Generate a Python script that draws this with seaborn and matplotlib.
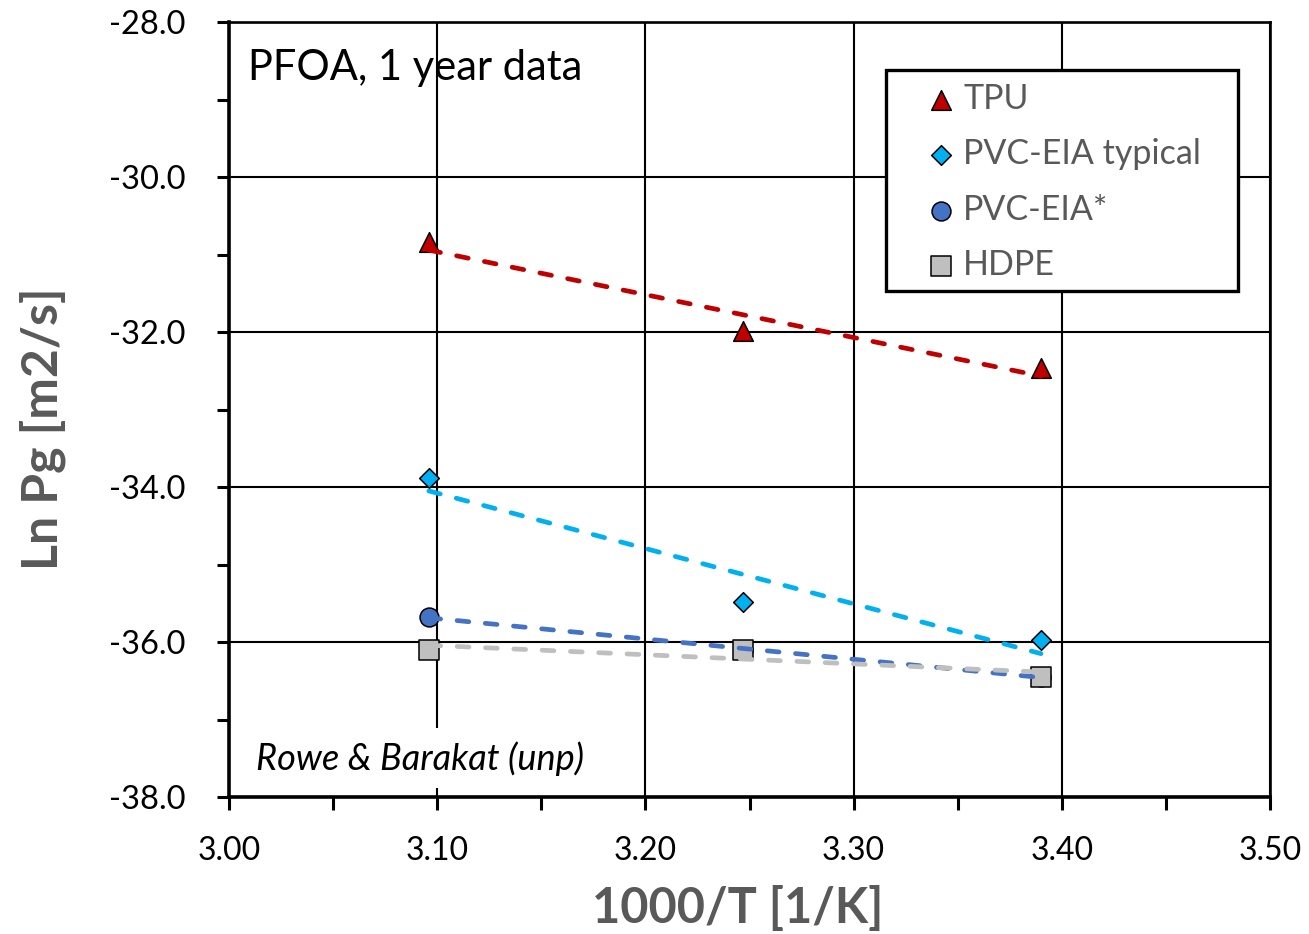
import numpy as np
import pandas as pd
import matplotlib
matplotlib.use("Agg")
import matplotlib.pyplot as plt
from matplotlib.patches import Rectangle
import seaborn as sns

# Inverse temperature (1000/T, 1/K) for the three test temperatures
inv_temp = [3.096, 3.247, 3.390]

# Ln of permeation coefficient Pg [m2/s], one list per geomembrane
tpu = [-30.84, -31.99, -32.46]
pvc_typical = [-33.88, -35.48, -35.97]
pvc_star = [-35.68, -36.10, -36.45]
hdpe = [-36.10, -36.10, -36.45]

series_names = ["TPU", "PVC-EIA typical", "PVC-EIA*", "HDPE"]
series_values = [tpu, pvc_typical, pvc_star, hdpe]
series_colors = ["#C00000", "#00B0F0", "#4472C4", "#BFBFBF"]
series_markers = ["^", "D", "o", "s"]
series_sizes = [200, 100, 185, 196]

x_ticks = [3.00, 3.10, 3.20, 3.30, 3.40, 3.50]
y_ticks = [-38.0, -36.0, -34.0, -32.0, -30.0, -28.0]

sns.set_theme(style="white")
plt.rcParams["font.family"] = ["Lato", "DejaVu Sans"]
plt.rcParams["axes.unicode_minus"] = False

fig = plt.figure(figsize=(13.09, 9.34), dpi=100)
ax = fig.add_axes([229 / 1309, 1 - 797 / 934, 1041 / 1309, 775 / 934])

for name, vals, col, mk, sz in zip(series_names, series_values, series_colors,
                                    series_markers, series_sizes):
    df = pd.DataFrame({"x": inv_temp, "y": vals})
    sns.scatterplot(data=df, x="x", y="y", marker=mk, s=sz, color=col,
                    edgecolor="black", linewidth=1.1, label=name, ax=ax,
                    zorder=4, clip_on=False)

# Linear trend lines (dashed) drawn over the markers
for vals, col in zip(series_values, series_colors):
    df = pd.DataFrame({"x": inv_temp, "y": vals})
    sns.regplot(data=df, x="x", y="y", scatter=False, ci=None, truncate=True,
                ax=ax, color=col,
                line_kws=dict(linestyle=(0, (2.5, 3.5)), linewidth=3.4,
                              dash_capstyle="round", zorder=5))

ax.set_xlim(3.00, 3.50)
ax.set_ylim(-38.0, -28.0)
ax.set_xticks(x_ticks)
ax.set_yticks(y_ticks)
ax.set_xticklabels([f"{v:.2f}" for v in x_ticks])
ax.set_yticklabels([f"{v:.1f}" for v in y_ticks])
ax.set_xticks(np.arange(3.05, 3.50, 0.1), minor=True)
ax.set_yticks(np.arange(-37.0, -28.0, 2.0), minor=True)

ax.grid(True, which="major", color="black", linewidth=1.5, zorder=1)
ax.set_axisbelow(True)

ax.tick_params(axis="both", which="both", direction="out", length=9,
               width=2.2, color="black", bottom=True, left=True)
ax.tick_params(axis="x", which="major", labelsize=23, pad=19, labelcolor="black")
ax.tick_params(axis="y", which="major", labelsize=23.5, pad=22, labelcolor="black")

for side in ["left", "bottom"]:
    ax.spines[side].set_linewidth(2.6)
    ax.spines[side].set_color("black")
for side in ["top", "right"]:
    ax.spines[side].set_linewidth(1.9)
    ax.spines[side].set_color("black")

ax.set_xlabel("1000/T [1/K]", fontsize=35, fontweight="bold", color="#595959")
ax.set_ylabel("Ln Pg [m2/s]", fontsize=36, fontweight="bold", color="#595959")
ax.xaxis.set_label_coords(0.489, -0.114)
ax.yaxis.set_label_coords(-0.157, 0.475)

ax.text(0.018, 0.941, "PFOA, 1 year data", transform=ax.transAxes,
        fontsize=30, color="black", va="center", ha="left", zorder=6)
ax.text(0.026, 0.050, "Rowe & Barakat (unp)", transform=ax.transAxes,
        fontsize=26, fontstyle="italic", color="black", va="center",
        ha="left", zorder=6,
        bbox=dict(facecolor="white", edgecolor="none", pad=9))

# Legend box outline
ax.add_patch(Rectangle((0.631, 0.653), 0.338, 0.285, transform=ax.transAxes,
                       facecolor="white", edgecolor="black", linewidth=2.4,
                       zorder=6, clip_on=False))
leg = ax.legend(loc="upper left", bbox_to_anchor=(0.6676, 0.921),
                borderaxespad=0, borderpad=0, fontsize=24.5, frameon=False,
                labelcolor="#595959", handlelength=1.0, handletextpad=0.15,
                labelspacing=0.68)
leg.set_zorder(7)

fig.savefig("out.png", dpi=100, facecolor="white")
